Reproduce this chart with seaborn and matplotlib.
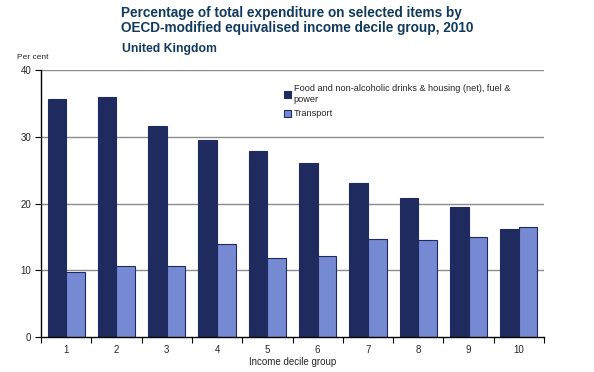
import matplotlib
matplotlib.use("Agg")
import matplotlib.pyplot as plt
import seaborn as sns
import pandas as pd
import numpy as np
from matplotlib.ticker import FixedLocator

deciles = ["1", "2", "3", "4", "5", "6", "7", "8", "9", "10"]
food_housing = [35.7, 36.0, 31.6, 29.5, 27.9, 26.1, 23.1, 20.8, 19.5, 16.2]
transport = [9.7, 10.6, 10.6, 13.9, 11.8, 12.1, 14.65, 14.5, 14.95, 16.45]
series_names = ["Food and non-alcoholic drinks & housing (net), fuel &\npower", "Transport"]
y_ticks = [0, 10, 20, 30, 40]

df = pd.DataFrame({
    "decile": deciles * 2,
    "value": food_housing + transport,
    "series": [series_names[0]] * len(deciles) + [series_names[1]] * len(deciles),
})

sns.set_theme(style="white")
plt.rcParams["font.family"] = ["Liberation Sans", "DejaVu Sans"]

fig = plt.figure(figsize=(5.94, 3.72), dpi=100)
ax = fig.add_axes([41/594, 35/372, 503/594, 267/372])

dark = "#1F2A5E"
light = "#7689D3"
sns.barplot(data=df, x="decile", y="value", hue="series", order=deciles,
            hue_order=series_names, palette=[dark, light], width=0.74,
            saturation=1, edgecolor=dark, linewidth=0.8, ax=ax, legend=True)

ax.set_ylim(0, 40)
ax.set_xlim(-0.5, 9.5)
ax.set_yticks(y_ticks)
ax.set_yticklabels([str(t) for t in y_ticks], fontsize=7)
for t in y_ticks[1:]:
    ax.axhline(t, color="#8C8C8C", lw=1.0, zorder=0)
ax.set_axisbelow(True)

ax.tick_params(axis="x", which="major", length=0, labelsize=7, pad=6)
ax.xaxis.set_minor_locator(FixedLocator(np.arange(-0.5, 10, 1)))
ax.tick_params(axis="x", which="minor", length=4, width=0.8, color="black", direction="out", bottom=True)
ax.tick_params(axis="y", length=4, width=0.8, color="black", direction="out", left=True, pad=3)

for s in ["top", "right"]:
    ax.spines[s].set_visible(False)
for s in ["left", "bottom"]:
    ax.spines[s].set_color("black")
    ax.spines[s].set_linewidth(1.0)

ax.set_xlabel("Income decile group", fontsize=7, labelpad=1)
ax.set_ylabel("")

leg = ax.legend(loc="upper left", bbox_to_anchor=(0.475, 0.96), frameon=False,
                fontsize=6.6, handlelength=0.8, handleheight=0.8, handletextpad=0.3,
                labelspacing=0.6, borderaxespad=0)
for h in leg.legend_handles:
    h.set_edgecolor(dark)
    h.set_linewidth(0.8)

title_color = "#123A5E"
fig.text(121/594, 1 - 6/372, "Percentage of total expenditure on selected items by\nOECD-modified equivalised income decile group, 2010",
         fontsize=9.8, fontweight="bold", color=title_color, va="top", ha="left", linespacing=1.12)
fig.text(122/594, 1 - 43/372, "United Kingdom", fontsize=8.8, fontweight="bold",
         color=title_color, va="top", ha="left")
fig.text(17/594, 1 - 54/372, "Per cent", fontsize=6, va="top", ha="left")

fig.savefig("out.png", dpi=100)
